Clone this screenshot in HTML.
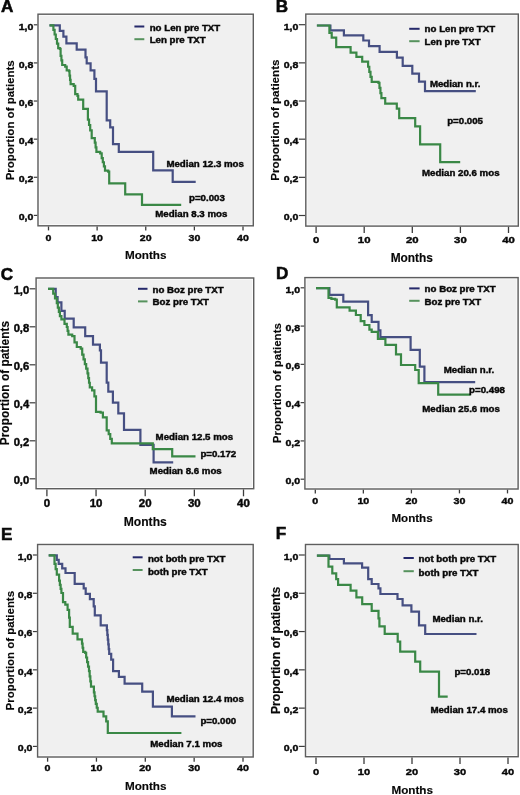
<!DOCTYPE html>
<html><head><meta charset="utf-8"><title>Kaplan-Meier curves</title>
<style>
html,body{margin:0;padding:0;background:#fff;}
body{width:520px;height:795px;overflow:hidden;}
svg{display:block;will-change:transform;}
.t{font-family:"Liberation Sans", sans-serif;font-weight:bold;font-size:10px;fill:#080808;stroke:#080808;stroke-width:0.2px;}
.s{stroke-width:0.45px;}
.m{font-size:11.6px;stroke-width:0.15px;}
.L{font-size:17.1px;stroke-width:0.55px;}
</style></head><body>
<svg width="520" height="795" viewBox="0 0 520 795">
<rect width="520" height="795" fill="#fff"/>
<rect x="37.30" y="13.50" width="216.70" height="213.00" fill="#f0f0f0"/>
<rect x="39.20" y="15.40" width="212.90" height="209.20" fill="none" stroke="#fbfbfb" stroke-width="1"/>
<rect x="38.00" y="14.20" width="215.30" height="211.60" fill="none" stroke="#5e5e5e" stroke-width="1.40"/>
<line x1="33.80" y1="215.40" x2="37.30" y2="215.40" stroke="#3c3c3c" stroke-width="1.2"/>
<text transform="translate(33.40 220.20) scale(1 0.920)" text-anchor="end" class="t s" style="font-size:10.60px">0,0</text>
<line x1="33.80" y1="177.28" x2="37.30" y2="177.28" stroke="#3c3c3c" stroke-width="1.2"/>
<text transform="translate(33.40 182.08) scale(1 0.920)" text-anchor="end" class="t s" style="font-size:10.60px">0,2</text>
<line x1="33.80" y1="139.16" x2="37.30" y2="139.16" stroke="#3c3c3c" stroke-width="1.2"/>
<text transform="translate(33.40 143.96) scale(1 0.920)" text-anchor="end" class="t s" style="font-size:10.60px">0,4</text>
<line x1="33.80" y1="101.04" x2="37.30" y2="101.04" stroke="#3c3c3c" stroke-width="1.2"/>
<text transform="translate(33.40 105.84) scale(1 0.920)" text-anchor="end" class="t s" style="font-size:10.60px">0,6</text>
<line x1="33.80" y1="62.92" x2="37.30" y2="62.92" stroke="#3c3c3c" stroke-width="1.2"/>
<text transform="translate(33.40 67.72) scale(1 0.920)" text-anchor="end" class="t s" style="font-size:10.60px">0,8</text>
<line x1="33.80" y1="24.80" x2="37.30" y2="24.80" stroke="#3c3c3c" stroke-width="1.2"/>
<text transform="translate(33.40 29.60) scale(1 0.920)" text-anchor="end" class="t s" style="font-size:10.60px">1,0</text>
<line x1="48.50" y1="226.50" x2="48.50" y2="230.40" stroke="#3c3c3c" stroke-width="1.3"/>
<text transform="translate(48.50 240.90) scale(1 0.850)" text-anchor="middle" class="t s" style="font-size:10.60px">0</text>
<line x1="97.12" y1="226.50" x2="97.12" y2="230.40" stroke="#3c3c3c" stroke-width="1.3"/>
<text transform="translate(97.12 240.90) scale(1 0.850)" text-anchor="middle" class="t s" style="font-size:10.60px">10</text>
<line x1="145.75" y1="226.50" x2="145.75" y2="230.40" stroke="#3c3c3c" stroke-width="1.3"/>
<text transform="translate(145.75 240.90) scale(1 0.850)" text-anchor="middle" class="t s" style="font-size:10.60px">20</text>
<line x1="194.38" y1="226.50" x2="194.38" y2="230.40" stroke="#3c3c3c" stroke-width="1.3"/>
<text transform="translate(194.38 240.90) scale(1 0.850)" text-anchor="middle" class="t s" style="font-size:10.60px">30</text>
<line x1="243.00" y1="226.50" x2="243.00" y2="230.40" stroke="#3c3c3c" stroke-width="1.3"/>
<text transform="translate(243.00 240.90) scale(1 0.850)" text-anchor="middle" class="t s" style="font-size:10.60px">40</text>
<text x="145.75" y="259.20" text-anchor="middle" class="t m" style="font-size:11.70px">Months</text>
<text transform="translate(13.70 120.30) rotate(-90)" text-anchor="middle" class="t m" style="font-size:11.50px">Proportion of patients</text>
<text x="1.00" y="12.30" class="t L">A</text>
<path d="M49.30,25.00 H59.60 V30.50 H63.20 V36.20 H66.20 V43.00 H76.50 V49.20 H85.30 V57.00 H86.50 V63.00 H90.40 V70.00 H94.20 V78.50 H95.80 V91.00 H106.50 V120.00 H110.00 V127.00 H112.80 V143.80 H118.60 V151.50 H153.00 V170.00 H172.50 V181.50 H195.50" fill="none" stroke="#464f82" stroke-width="2.2" transform="translate(0.2 0.4)"/>
<path d="M49.30,25.00 H52.00 H53.20 V29.54 H54.40 V34.08 H55.60 V38.62 H56.80 V43.16 H58.00 V47.70 H59.60 V48.50 H60.40 V55.40 H61.20 V60.00 H62.00 V64.60 H65.00 V66.20 H66.50 V70.00 H68.80 V70.80 H69.33 V75.13 H69.87 V79.47 H70.40 V83.80 H73.50 V85.40 H75.00 V93.80 H77.30 V95.40 H78.00 V99.20 H83.00 V108.50 H87.00 H87.70 V119.20 H88.85 V124.60 H90.00 V130.00 H91.50 V137.70 H94.60 V142.30 H95.40 V146.90 H96.20 V151.50 H100.00 V153.00 H101.50 V157.70 H102.60 V161.87 H103.70 V166.03 H104.80 V170.20 H108.00 V171.30 H109.00 V183.00 H125.00 V194.00 H141.80 V204.50 H181.00" fill="none" stroke="#3a8846" stroke-width="2.2" transform="translate(0.2 0.4)"/>
<line x1="134.40" y1="26.50" x2="144.30" y2="26.50" stroke="#25296a" stroke-width="2"/>
<text transform="translate(149.70 30.80) scale(1 0.950)" class="t s" style="font-size:9.70px">no Len pre TXT</text>
<line x1="134.40" y1="39.20" x2="144.30" y2="39.20" stroke="#56925d" stroke-width="2"/>
<text transform="translate(149.70 43.10) scale(1 0.950)" class="t s" style="font-size:9.70px">Len pre TXT</text>
<text transform="translate(166.40 167.30) scale(1 0.870)" class="t s" style="font-size:9.70px">Median 12.3 mos</text>
<text transform="translate(189.00 200.80) scale(1 0.870)" class="t s" style="font-size:9.70px">p=0.003</text>
<text transform="translate(155.20 217.30) scale(1 0.870)" class="t s" style="font-size:9.70px">Median 8.3 mos</text>
<rect x="305.10" y="13.40" width="213.90" height="213.40" fill="#f0f0f0"/>
<rect x="307.00" y="15.30" width="210.10" height="209.60" fill="none" stroke="#fbfbfb" stroke-width="1"/>
<rect x="305.80" y="14.10" width="212.50" height="212.00" fill="none" stroke="#5e5e5e" stroke-width="1.40"/>
<line x1="298.80" y1="215.50" x2="305.10" y2="215.50" stroke="#3c3c3c" stroke-width="1.2"/>
<text transform="translate(298.40 220.30) scale(1 0.920)" text-anchor="end" class="t s" style="font-size:10.60px">0,0</text>
<line x1="298.80" y1="177.34" x2="305.10" y2="177.34" stroke="#3c3c3c" stroke-width="1.2"/>
<text transform="translate(298.40 182.14) scale(1 0.920)" text-anchor="end" class="t s" style="font-size:10.60px">0,2</text>
<line x1="298.80" y1="139.18" x2="305.10" y2="139.18" stroke="#3c3c3c" stroke-width="1.2"/>
<text transform="translate(298.40 143.98) scale(1 0.920)" text-anchor="end" class="t s" style="font-size:10.60px">0,4</text>
<line x1="298.80" y1="101.02" x2="305.10" y2="101.02" stroke="#3c3c3c" stroke-width="1.2"/>
<text transform="translate(298.40 105.82) scale(1 0.920)" text-anchor="end" class="t s" style="font-size:10.60px">0,6</text>
<line x1="298.80" y1="62.86" x2="305.10" y2="62.86" stroke="#3c3c3c" stroke-width="1.2"/>
<text transform="translate(298.40 67.66) scale(1 0.920)" text-anchor="end" class="t s" style="font-size:10.60px">0,8</text>
<line x1="298.80" y1="24.70" x2="305.10" y2="24.70" stroke="#3c3c3c" stroke-width="1.2"/>
<text transform="translate(298.40 29.50) scale(1 0.920)" text-anchor="end" class="t s" style="font-size:10.60px">1,0</text>
<line x1="316.10" y1="226.80" x2="316.10" y2="233.00" stroke="#3c3c3c" stroke-width="1.3"/>
<text transform="translate(316.10 243.40) scale(1 0.830)" text-anchor="middle" class="t s" style="font-size:11.40px">0</text>
<line x1="364.20" y1="226.80" x2="364.20" y2="233.00" stroke="#3c3c3c" stroke-width="1.3"/>
<text transform="translate(364.20 243.40) scale(1 0.830)" text-anchor="middle" class="t s" style="font-size:11.40px">10</text>
<line x1="412.30" y1="226.80" x2="412.30" y2="233.00" stroke="#3c3c3c" stroke-width="1.3"/>
<text transform="translate(412.30 243.40) scale(1 0.830)" text-anchor="middle" class="t s" style="font-size:11.40px">20</text>
<line x1="460.40" y1="226.80" x2="460.40" y2="233.00" stroke="#3c3c3c" stroke-width="1.3"/>
<text transform="translate(460.40 243.40) scale(1 0.830)" text-anchor="middle" class="t s" style="font-size:11.40px">30</text>
<line x1="508.50" y1="226.80" x2="508.50" y2="233.00" stroke="#3c3c3c" stroke-width="1.3"/>
<text transform="translate(508.50 243.40) scale(1 0.830)" text-anchor="middle" class="t s" style="font-size:11.40px">40</text>
<text x="411.80" y="261.90" text-anchor="middle" class="t m" style="font-size:11.90px">Months</text>
<text transform="translate(278.60 120.10) rotate(-90)" text-anchor="middle" class="t m" style="font-size:11.60px">Proportion of patients</text>
<text x="275.80" y="11.80" class="t L">B</text>
<path d="M316.70,25.10 H330.20 V29.90 H343.70 V34.90 H363.10 V40.10 H368.80 V45.80 H379.40 V51.40 H396.70 V57.20 H402.50 V65.40 H412.10 V73.30 H418.80 V81.30 H424.80 V90.80 H475.60" fill="none" stroke="#464f82" stroke-width="2.2" transform="translate(0.2 0.4)"/>
<path d="M316.70,25.10 H329.20 V32.40 H331.50 V37.20 H336.00 V46.80 H350.40 V52.20 H356.20 V56.50 H362.00 V61.30 H366.70 H367.90 V66.35 H369.10 V71.40 H370.30 V76.45 H371.50 V81.50 H378.30 V82.40 H379.27 V87.53 H380.23 V92.67 H381.20 V97.80 H385.00 V103.20 H396.60 V108.30 H399.00 V117.80 H415.00 V126.00 H419.90 V144.00 H440.00 V161.80 H460.00" fill="none" stroke="#3a8846" stroke-width="2.2" transform="translate(0.2 0.4)"/>
<line x1="409.20" y1="28.80" x2="419.60" y2="28.80" stroke="#25296a" stroke-width="2"/>
<text transform="translate(424.60 32.30) scale(1 0.950)" class="t s" style="font-size:9.70px">no Len pre TXT</text>
<line x1="409.20" y1="41.20" x2="419.60" y2="41.20" stroke="#56925d" stroke-width="2"/>
<text transform="translate(424.60 45.00) scale(1 0.950)" class="t s" style="font-size:9.70px">Len pre TXT</text>
<text transform="translate(429.90 86.90) scale(1 0.870)" class="t s" style="font-size:9.70px">Median n.r.</text>
<text transform="translate(447.20 124.00) scale(1 0.870)" class="t s" style="font-size:9.70px">p=0.005</text>
<text transform="translate(422.00 176.20) scale(1 0.870)" class="t s" style="font-size:9.70px">Median 20.6 mos</text>
<rect x="35.40" y="277.30" width="219.00" height="212.10" fill="#f0f0f0"/>
<rect x="37.30" y="279.20" width="215.20" height="208.30" fill="none" stroke="#fbfbfb" stroke-width="1"/>
<rect x="36.10" y="278.00" width="217.60" height="210.70" fill="none" stroke="#5e5e5e" stroke-width="1.40"/>
<line x1="29.60" y1="478.80" x2="35.40" y2="478.80" stroke="#3c3c3c" stroke-width="1.2"/>
<text transform="translate(29.20 483.60) scale(1 0.920)" text-anchor="end" class="t s" style="font-size:11.20px">0,0</text>
<line x1="29.60" y1="440.80" x2="35.40" y2="440.80" stroke="#3c3c3c" stroke-width="1.2"/>
<text transform="translate(29.20 445.60) scale(1 0.920)" text-anchor="end" class="t s" style="font-size:11.20px">0,2</text>
<line x1="29.60" y1="402.80" x2="35.40" y2="402.80" stroke="#3c3c3c" stroke-width="1.2"/>
<text transform="translate(29.20 407.60) scale(1 0.920)" text-anchor="end" class="t s" style="font-size:11.20px">0,4</text>
<line x1="29.60" y1="364.80" x2="35.40" y2="364.80" stroke="#3c3c3c" stroke-width="1.2"/>
<text transform="translate(29.20 369.60) scale(1 0.920)" text-anchor="end" class="t s" style="font-size:11.20px">0,6</text>
<line x1="29.60" y1="326.80" x2="35.40" y2="326.80" stroke="#3c3c3c" stroke-width="1.2"/>
<text transform="translate(29.20 331.60) scale(1 0.920)" text-anchor="end" class="t s" style="font-size:11.20px">0,8</text>
<line x1="29.60" y1="288.80" x2="35.40" y2="288.80" stroke="#3c3c3c" stroke-width="1.2"/>
<text transform="translate(29.20 293.60) scale(1 0.920)" text-anchor="end" class="t s" style="font-size:11.20px">1,0</text>
<line x1="46.90" y1="489.40" x2="46.90" y2="496.30" stroke="#3c3c3c" stroke-width="1.3"/>
<text transform="translate(46.90 507.00) scale(1 0.900)" text-anchor="middle" class="t s" style="font-size:11.50px">0</text>
<line x1="96.05" y1="489.40" x2="96.05" y2="496.30" stroke="#3c3c3c" stroke-width="1.3"/>
<text transform="translate(96.05 507.00) scale(1 0.900)" text-anchor="middle" class="t s" style="font-size:11.50px">10</text>
<line x1="145.20" y1="489.40" x2="145.20" y2="496.30" stroke="#3c3c3c" stroke-width="1.3"/>
<text transform="translate(145.20 507.00) scale(1 0.900)" text-anchor="middle" class="t s" style="font-size:11.50px">20</text>
<line x1="194.35" y1="489.40" x2="194.35" y2="496.30" stroke="#3c3c3c" stroke-width="1.3"/>
<text transform="translate(194.35 507.00) scale(1 0.900)" text-anchor="middle" class="t s" style="font-size:11.50px">30</text>
<line x1="243.50" y1="489.40" x2="243.50" y2="496.30" stroke="#3c3c3c" stroke-width="1.3"/>
<text transform="translate(243.50 507.00) scale(1 0.900)" text-anchor="middle" class="t s" style="font-size:11.50px">40</text>
<text x="145.25" y="525.90" text-anchor="middle" class="t m" style="font-size:12.10px">Months</text>
<text transform="translate(9.00 383.10) rotate(-90)" text-anchor="middle" class="t m" style="font-size:11.90px">Proportion of patients</text>
<text x="0.80" y="280.00" class="t L">C</text>
<path d="M47.80,288.50 H55.50 V296.60 H57.40 V302.00 H61.20 V310.50 H64.50 V318.20 H73.50 V327.00 H85.00 V335.80 H92.80 V344.30 H99.70 V350.00 H100.80 V362.30 H106.50 V382.30 H108.10 V391.20 H112.70 V402.30 H118.10 V413.00 H123.80 V429.40 H140.20 V444.40 H153.40 V462.00 H173.00" fill="none" stroke="#464f82" stroke-width="2.2" transform="translate(0.2 0.4)"/>
<path d="M47.80,288.50 H51.20 H53.00 V293.27 H54.80 V298.03 H56.60 V302.80 H57.63 V307.13 H58.67 V311.47 H59.70 V315.80 H61.20 V319.00 H64.30 V323.50 H66.60 V326.60 H67.40 V330.45 H68.20 V334.30 H72.00 V335.80 H74.30 V342.00 H76.60 V346.60 H80.50 V348.20 H82.00 V354.30 H83.33 V358.98 H84.65 V363.65 H85.97 V368.32 H87.30 V373.00 H88.07 V377.67 H88.83 V382.33 H89.60 V387.00 H91.90 V390.00 H94.20 V396.00 H95.80 V411.50 H100.40 V412.30 H102.70 V417.00 H106.50 V430.00 H108.50 V433.80 H110.05 V438.40 H111.60 V443.00 H152.60 V448.70 H172.00 V456.00 H195.30" fill="none" stroke="#3a8846" stroke-width="2.2" transform="translate(0.2 0.4)"/>
<line x1="138.00" y1="288.80" x2="147.50" y2="288.80" stroke="#25296a" stroke-width="2"/>
<text transform="translate(152.50 292.80) scale(1 0.950)" class="t s" style="font-size:9.70px">no Boz pre TXT</text>
<line x1="138.00" y1="301.40" x2="147.50" y2="301.40" stroke="#56925d" stroke-width="2"/>
<text transform="translate(152.50 305.00) scale(1 0.950)" class="t s" style="font-size:9.70px">Boz pre TXT</text>
<text transform="translate(155.60 440.30) scale(1 0.870)" class="t s" style="font-size:9.70px">Median 12.5 mos</text>
<text transform="translate(200.40 457.40) scale(1 0.870)" class="t s" style="font-size:9.70px">p=0.172</text>
<text transform="translate(149.60 473.50) scale(1 0.870)" class="t s" style="font-size:9.70px">Median 8.6 mos</text>
<rect x="304.20" y="276.90" width="214.60" height="212.80" fill="#f0f0f0"/>
<rect x="306.10" y="278.80" width="210.80" height="209.00" fill="none" stroke="#fbfbfb" stroke-width="1"/>
<rect x="304.90" y="277.60" width="213.20" height="211.40" fill="none" stroke="#5e5e5e" stroke-width="1.40"/>
<line x1="300.60" y1="479.20" x2="304.20" y2="479.20" stroke="#3c3c3c" stroke-width="1.2"/>
<text transform="translate(300.20 484.00) scale(1 0.920)" text-anchor="end" class="t s" style="font-size:10.60px">0,0</text>
<line x1="300.60" y1="440.92" x2="304.20" y2="440.92" stroke="#3c3c3c" stroke-width="1.2"/>
<text transform="translate(300.20 445.72) scale(1 0.920)" text-anchor="end" class="t s" style="font-size:10.60px">0,2</text>
<line x1="300.60" y1="402.64" x2="304.20" y2="402.64" stroke="#3c3c3c" stroke-width="1.2"/>
<text transform="translate(300.20 407.44) scale(1 0.920)" text-anchor="end" class="t s" style="font-size:10.60px">0,4</text>
<line x1="300.60" y1="364.36" x2="304.20" y2="364.36" stroke="#3c3c3c" stroke-width="1.2"/>
<text transform="translate(300.20 369.16) scale(1 0.920)" text-anchor="end" class="t s" style="font-size:10.60px">0,6</text>
<line x1="300.60" y1="326.08" x2="304.20" y2="326.08" stroke="#3c3c3c" stroke-width="1.2"/>
<text transform="translate(300.20 330.88) scale(1 0.920)" text-anchor="end" class="t s" style="font-size:10.60px">0,8</text>
<line x1="300.60" y1="287.80" x2="304.20" y2="287.80" stroke="#3c3c3c" stroke-width="1.2"/>
<text transform="translate(300.20 292.60) scale(1 0.920)" text-anchor="end" class="t s" style="font-size:10.60px">1,0</text>
<line x1="315.30" y1="489.70" x2="315.30" y2="493.40" stroke="#3c3c3c" stroke-width="1.3"/>
<text transform="translate(315.30 503.80) scale(1 0.830)" text-anchor="middle" class="t s" style="font-size:10.70px">0</text>
<line x1="363.35" y1="489.70" x2="363.35" y2="493.40" stroke="#3c3c3c" stroke-width="1.3"/>
<text transform="translate(363.35 503.80) scale(1 0.830)" text-anchor="middle" class="t s" style="font-size:10.70px">10</text>
<line x1="411.40" y1="489.70" x2="411.40" y2="493.40" stroke="#3c3c3c" stroke-width="1.3"/>
<text transform="translate(411.40 503.80) scale(1 0.830)" text-anchor="middle" class="t s" style="font-size:10.70px">20</text>
<line x1="459.45" y1="489.70" x2="459.45" y2="493.40" stroke="#3c3c3c" stroke-width="1.3"/>
<text transform="translate(459.45 503.80) scale(1 0.830)" text-anchor="middle" class="t s" style="font-size:10.70px">30</text>
<line x1="507.50" y1="489.70" x2="507.50" y2="493.40" stroke="#3c3c3c" stroke-width="1.3"/>
<text transform="translate(507.50 503.80) scale(1 0.830)" text-anchor="middle" class="t s" style="font-size:10.70px">40</text>
<text x="412.00" y="522.40" text-anchor="middle" class="t m" style="font-size:11.60px">Months</text>
<text transform="translate(280.90 383.20) rotate(-90)" text-anchor="middle" class="t m" style="font-size:11.50px">Proportion of patients</text>
<text x="275.90" y="279.40" class="t L">D</text>
<path d="M315.80,287.80 H329.20 V294.50 H343.10 V301.20 H367.90 V314.70 H371.50 V321.40 H378.30 V330.00 H380.20 V336.80 H410.40 V349.50 H419.60 V366.20 H424.20 V381.80 H475.00" fill="none" stroke="#464f82" stroke-width="2.2" transform="translate(0.2 0.4)"/>
<path d="M315.80,287.80 H328.30 V297.40 H331.20 V298.50 H335.00 V299.30 H336.60 V307.00 H349.40 V310.30 H355.70 V314.60 H360.50 V320.80 H364.20 V324.60 H369.20 V329.20 H371.50 V331.50 H377.70 V338.50 H385.20 V344.50 H395.80 V354.00 H400.80 V364.60 H415.00 V369.60 H418.50 V382.80 H438.00 V394.30 H470.40" fill="none" stroke="#3a8846" stroke-width="2.2" transform="translate(0.2 0.4)"/>
<line x1="409.20" y1="288.40" x2="419.60" y2="288.40" stroke="#25296a" stroke-width="2"/>
<text transform="translate(424.60 292.30) scale(1 0.950)" class="t s" style="font-size:9.70px">no Boz pre TXT</text>
<line x1="409.20" y1="300.80" x2="419.60" y2="300.80" stroke="#56925d" stroke-width="2"/>
<text transform="translate(424.60 304.80) scale(1 0.950)" class="t s" style="font-size:9.70px">Boz pre TXT</text>
<text transform="translate(443.70 372.60) scale(1 0.870)" class="t s" style="font-size:9.70px">Median n.r.</text>
<text transform="translate(469.10 392.70) scale(1 0.870)" class="t s" style="font-size:9.70px">p=0.498</text>
<text transform="translate(422.30 412.30) scale(1 0.870)" class="t s" style="font-size:9.70px">Median 25.6 mos</text>
<rect x="36.90" y="543.80" width="217.00" height="213.90" fill="#f0f0f0"/>
<rect x="38.80" y="545.70" width="213.20" height="210.10" fill="none" stroke="#fbfbfb" stroke-width="1"/>
<rect x="37.60" y="544.50" width="215.60" height="212.50" fill="none" stroke="#5e5e5e" stroke-width="1.40"/>
<line x1="32.90" y1="746.40" x2="36.90" y2="746.40" stroke="#3c3c3c" stroke-width="1.2"/>
<text transform="translate(32.50 751.20) scale(1 0.920)" text-anchor="end" class="t s" style="font-size:10.60px">0,0</text>
<line x1="32.90" y1="708.12" x2="36.90" y2="708.12" stroke="#3c3c3c" stroke-width="1.2"/>
<text transform="translate(32.50 712.92) scale(1 0.920)" text-anchor="end" class="t s" style="font-size:10.60px">0,2</text>
<line x1="32.90" y1="669.84" x2="36.90" y2="669.84" stroke="#3c3c3c" stroke-width="1.2"/>
<text transform="translate(32.50 674.64) scale(1 0.920)" text-anchor="end" class="t s" style="font-size:10.60px">0,4</text>
<line x1="32.90" y1="631.56" x2="36.90" y2="631.56" stroke="#3c3c3c" stroke-width="1.2"/>
<text transform="translate(32.50 636.36) scale(1 0.920)" text-anchor="end" class="t s" style="font-size:10.60px">0,6</text>
<line x1="32.90" y1="593.28" x2="36.90" y2="593.28" stroke="#3c3c3c" stroke-width="1.2"/>
<text transform="translate(32.50 598.08) scale(1 0.920)" text-anchor="end" class="t s" style="font-size:10.60px">0,8</text>
<line x1="32.90" y1="555.00" x2="36.90" y2="555.00" stroke="#3c3c3c" stroke-width="1.2"/>
<text transform="translate(32.50 559.80) scale(1 0.920)" text-anchor="end" class="t s" style="font-size:10.60px">1,0</text>
<line x1="47.60" y1="757.70" x2="47.60" y2="761.70" stroke="#3c3c3c" stroke-width="1.3"/>
<text transform="translate(47.60 771.40) scale(1 0.830)" text-anchor="middle" class="t s" style="font-size:10.70px">0</text>
<line x1="96.45" y1="757.70" x2="96.45" y2="761.70" stroke="#3c3c3c" stroke-width="1.3"/>
<text transform="translate(96.45 771.40) scale(1 0.830)" text-anchor="middle" class="t s" style="font-size:10.70px">10</text>
<line x1="145.30" y1="757.70" x2="145.30" y2="761.70" stroke="#3c3c3c" stroke-width="1.3"/>
<text transform="translate(145.30 771.40) scale(1 0.830)" text-anchor="middle" class="t s" style="font-size:10.70px">20</text>
<line x1="194.15" y1="757.70" x2="194.15" y2="761.70" stroke="#3c3c3c" stroke-width="1.3"/>
<text transform="translate(194.15 771.40) scale(1 0.830)" text-anchor="middle" class="t s" style="font-size:10.70px">30</text>
<line x1="243.00" y1="757.70" x2="243.00" y2="761.70" stroke="#3c3c3c" stroke-width="1.3"/>
<text transform="translate(243.00 771.40) scale(1 0.830)" text-anchor="middle" class="t s" style="font-size:10.70px">40</text>
<text x="145.75" y="790.10" text-anchor="middle" class="t m" style="font-size:11.70px">Months</text>
<text transform="translate(13.60 650.70) rotate(-90)" text-anchor="middle" class="t m" style="font-size:11.45px">Proportion of patients</text>
<text x="0.90" y="539.60" class="t L">E</text>
<path d="M48.50,554.90 H56.60 V559.50 H58.50 V563.40 H62.00 V568.00 H65.30 V572.60 H74.50 V583.40 H83.50 V588.00 H85.50 V593.40 H89.70 V598.80 H93.50 V606.00 H94.60 V614.90 H100.50 V625.00 H106.20 H106.67 V629.75 H107.13 V634.50 H107.60 V639.25 H108.07 V644.00 H108.53 V648.75 H109.00 V653.50 H111.00 V659.20 H112.90 V670.80 H118.70 V676.50 H124.40 V683.30 H142.00 V691.20 H152.70 V706.20 H171.70 V716.00 H195.30" fill="none" stroke="#464f82" stroke-width="2.2" transform="translate(0.2 0.4)"/>
<path d="M48.50,554.90 H52.80 H54.30 V563.40 H55.45 V568.80 H56.60 V574.20 H58.90 V580.30 H59.67 V584.40 H60.43 V588.50 H61.20 V592.60 H62.80 V601.80 H65.10 V604.20 H67.40 V609.50 H68.90 V617.20 H69.60 V626.50 H72.50 V633.30 H77.30 V639.00 H81.20 H81.80 V643.17 H82.40 V647.33 H83.00 V651.50 H85.00 V652.50 H85.95 V657.08 H86.90 V661.65 H87.85 V666.22 H88.80 V670.80 H89.47 V675.93 H90.13 V681.07 H90.80 V686.20 H93.70 V692.00 H94.33 V695.83 H94.97 V699.67 H95.60 V703.50 H96.55 V707.35 H97.50 V711.20 H103.30 V716.00 H106.00 V721.00 H107.60 V732.60 H181.20" fill="none" stroke="#3a8846" stroke-width="2.2" transform="translate(0.2 0.4)"/>
<line x1="132.70" y1="557.30" x2="142.60" y2="557.30" stroke="#25296a" stroke-width="2"/>
<text transform="translate(147.90 561.90) scale(1 0.950)" class="t s" style="font-size:9.70px">not both pre TXT</text>
<line x1="132.70" y1="570.00" x2="142.60" y2="570.00" stroke="#56925d" stroke-width="2"/>
<text transform="translate(147.90 575.00) scale(1 0.950)" class="t s" style="font-size:9.70px">both pre TXT</text>
<text transform="translate(166.40 702.00) scale(1 0.870)" class="t s" style="font-size:9.70px">Median 12.4 mos</text>
<text transform="translate(200.40 724.20) scale(1 0.870)" class="t s" style="font-size:9.70px">p=0.000</text>
<text transform="translate(150.30 746.50) scale(1 0.870)" class="t s" style="font-size:9.70px">Median 7.1 mos</text>
<rect x="304.80" y="543.80" width="214.10" height="213.60" fill="#f0f0f0"/>
<rect x="306.70" y="545.70" width="210.30" height="209.80" fill="none" stroke="#fbfbfb" stroke-width="1"/>
<rect x="305.50" y="544.50" width="212.70" height="212.20" fill="none" stroke="#5e5e5e" stroke-width="1.40"/>
<line x1="298.80" y1="746.40" x2="304.80" y2="746.40" stroke="#3c3c3c" stroke-width="1.2"/>
<text transform="translate(298.40 751.20) scale(1 0.920)" text-anchor="end" class="t s" style="font-size:10.60px">0,0</text>
<line x1="298.80" y1="708.12" x2="304.80" y2="708.12" stroke="#3c3c3c" stroke-width="1.2"/>
<text transform="translate(298.40 712.92) scale(1 0.920)" text-anchor="end" class="t s" style="font-size:10.60px">0,2</text>
<line x1="298.80" y1="669.84" x2="304.80" y2="669.84" stroke="#3c3c3c" stroke-width="1.2"/>
<text transform="translate(298.40 674.64) scale(1 0.920)" text-anchor="end" class="t s" style="font-size:10.60px">0,4</text>
<line x1="298.80" y1="631.56" x2="304.80" y2="631.56" stroke="#3c3c3c" stroke-width="1.2"/>
<text transform="translate(298.40 636.36) scale(1 0.920)" text-anchor="end" class="t s" style="font-size:10.60px">0,6</text>
<line x1="298.80" y1="593.28" x2="304.80" y2="593.28" stroke="#3c3c3c" stroke-width="1.2"/>
<text transform="translate(298.40 598.08) scale(1 0.920)" text-anchor="end" class="t s" style="font-size:10.60px">0,8</text>
<line x1="298.80" y1="555.00" x2="304.80" y2="555.00" stroke="#3c3c3c" stroke-width="1.2"/>
<text transform="translate(298.40 559.80) scale(1 0.920)" text-anchor="end" class="t s" style="font-size:10.60px">1,0</text>
<line x1="316.00" y1="757.40" x2="316.00" y2="764.00" stroke="#3c3c3c" stroke-width="1.3"/>
<text transform="translate(316.00 775.00) scale(1 0.870)" text-anchor="middle" class="t s" style="font-size:11.10px">0</text>
<line x1="364.00" y1="757.40" x2="364.00" y2="764.00" stroke="#3c3c3c" stroke-width="1.3"/>
<text transform="translate(364.00 775.00) scale(1 0.870)" text-anchor="middle" class="t s" style="font-size:11.10px">10</text>
<line x1="412.00" y1="757.40" x2="412.00" y2="764.00" stroke="#3c3c3c" stroke-width="1.3"/>
<text transform="translate(412.00 775.00) scale(1 0.870)" text-anchor="middle" class="t s" style="font-size:11.10px">20</text>
<line x1="460.00" y1="757.40" x2="460.00" y2="764.00" stroke="#3c3c3c" stroke-width="1.3"/>
<text transform="translate(460.00 775.00) scale(1 0.870)" text-anchor="middle" class="t s" style="font-size:11.10px">30</text>
<line x1="508.00" y1="757.40" x2="508.00" y2="764.00" stroke="#3c3c3c" stroke-width="1.3"/>
<text transform="translate(508.00 775.00) scale(1 0.870)" text-anchor="middle" class="t s" style="font-size:11.10px">40</text>
<text x="412.20" y="794.00" text-anchor="middle" class="t m" style="font-size:11.70px">Months</text>
<text transform="translate(279.80 650.40) rotate(-90)" text-anchor="middle" class="t m" style="font-size:12.20px">Proportion of patients</text>
<text x="275.80" y="539.40" class="t L">F</text>
<path d="M316.70,555.30 H329.20 V558.60 H343.70 V563.00 H361.90 V567.20 H368.00 V578.80 H371.50 V583.60 H378.30 V588.00 H380.20 V593.60 H397.30 V598.60 H402.40 V604.90 H411.20 V611.20 H418.80 V625.00 H425.00 V633.60 H476.30" fill="none" stroke="#464f82" stroke-width="2.2" transform="translate(0.2 0.4)"/>
<path d="M316.70,555.30 H328.30 V566.30 H332.10 V573.00 H336.00 V578.80 H337.90 V584.50 H350.40 V590.30 H356.20 V597.00 H362.00 V603.80 H371.50 V610.50 H378.30 V618.00 H379.20 V625.90 H384.50 V633.40 H397.50 V641.20 H400.00 V651.20 H415.00 V661.20 H420.00 V671.20 H438.80 V696.20 H447.50" fill="none" stroke="#3a8846" stroke-width="2.2" transform="translate(0.2 0.4)"/>
<line x1="403.50" y1="558.00" x2="413.80" y2="558.00" stroke="#25296a" stroke-width="2"/>
<text transform="translate(418.60 562.40) scale(1 0.950)" class="t s" style="font-size:9.70px">not both pre TXT</text>
<line x1="403.50" y1="571.20" x2="413.80" y2="571.20" stroke="#56925d" stroke-width="2"/>
<text transform="translate(418.60 575.70) scale(1 0.950)" class="t s" style="font-size:9.70px">both pre TXT</text>
<text transform="translate(432.40 621.80) scale(1 0.870)" class="t s" style="font-size:9.70px">Median n.r.</text>
<text transform="translate(454.40 674.50) scale(1 0.870)" class="t s" style="font-size:9.70px">p=0.018</text>
<text transform="translate(430.40 713.00) scale(1 0.870)" class="t s" style="font-size:9.70px">Median 17.4 mos</text>
</svg>
</body></html>
